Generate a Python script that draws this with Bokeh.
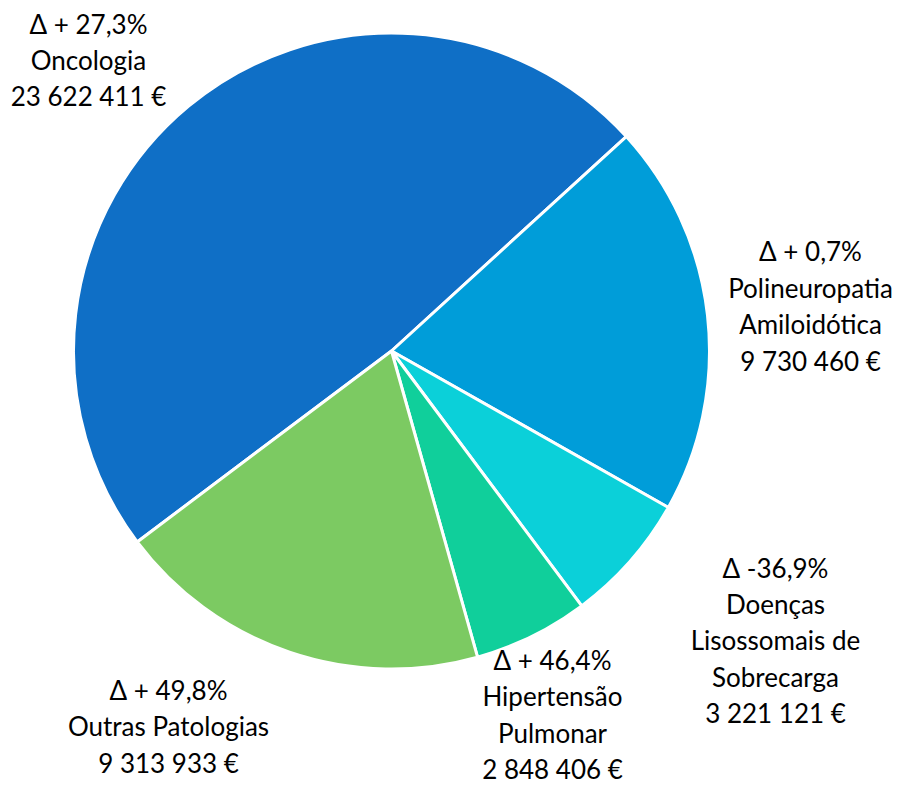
import math
from bokeh.plotting import figure
from bokeh.models import Range1d, ColumnDataSource
from bokeh.core.properties import value
from bokeh.embed import file_html
from bokeh.resources import INLINE

# ---- data (clockwise order, starting with Oncologia) ----
categories = ["Oncologia", "Polineuropatia\nAmiloidótica", "Doenças\nLisossomais de\nSobrecarga",
              "Hipertensão\nPulmonar", "Outras Patologias"]
amounts = [23622411, 9730460, 3221121, 2848406, 9313933]
amount_labels = ["23 622 411 €", "9 730 460 €", "3 221 121 €", "2 848 406 €", "9 313 933 €"]
deltas = ["Δ + 27,3%", "Δ + 0,7%", "Δ -36,9%", "Δ + 46,4%", "Δ + 49,8%"]
colors = ["#0F6FC6", "#009DD9", "#0BD0D9", "#10CF9B", "#7CCA62"]

# ---- layout (screen pixel coordinates, y negated) ----
W, H = 896, 789
cx, cy, R = 391, -350.5, 318
first_angle = math.radians(216.9)
label_x = [88, 810, 775, 552, 168]
label_y = [-59.5, -305.5, -640, -714, -726]

total = float(sum(amounts))
starts, ends = [], []
a = first_angle
for v in amounts:
    span = v / total * 2 * math.pi
    ends.append(a)
    starts.append(a - span)
    a -= span

src = ColumnDataSource(dict(start=starts, end=ends, color=colors))

p = figure(width=W, height=H, output_backend="svg", toolbar_location=None,
           x_range=Range1d(0, W), y_range=Range1d(-H, 0),
           x_axis_location=None, y_axis_location=None, min_border=0,
           outline_line_color=None, background_fill_color="white")
p.grid.visible = False

p.wedge(x=cx, y=cy, radius=R, start_angle="start", end_angle="end",
        direction="anticlock", fill_color="color", line_color="white",
        line_width=3, source=src)

texts = [f"{d}\n{c}\n{am}" for d, c, am in zip(deltas, categories, amount_labels)]
lsrc = ColumnDataSource(dict(x=label_x, y=label_y, t=texts))
p.text(x="x", y="y", text="t", source=lsrc, text_align="center",
       text_baseline="middle", text_font=value("Lato"), text_font_size="26px",
       text_color="#000000", text_line_height=1.14)

open("out.html", "w").write(file_html(p, INLINE))
